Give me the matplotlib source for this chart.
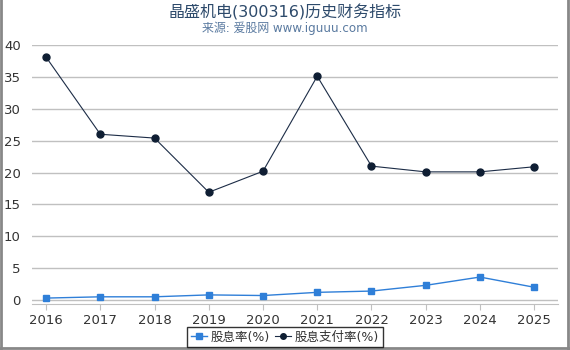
import matplotlib
matplotlib.use("Agg")
import matplotlib.pyplot as plt
from matplotlib.lines import Line2D

plt.rcParams['font.family'] = ['DejaVu Sans', 'Noto Sans CJK SC']

years = [2016, 2017, 2018, 2019, 2020, 2021, 2022, 2023, 2024, 2025]
dividend_yield = [0.3, 0.5, 0.5, 0.8, 0.7, 1.2, 1.4, 2.3, 3.6, 2.0]
payout_ratio = [38.1, 26.0, 25.4, 16.9, 20.2, 35.1, 21.0, 20.1, 20.1, 20.9]

fig = plt.figure(figsize=(5.7, 3.5), dpi=100)
ax = fig.add_axes([0.0561, 0.1314, 0.9229, 0.74])

ax.plot(years, dividend_yield, color="#2f7fd8", linewidth=1, marker="s",
        markersize=5, label="股息率(%)")
ax.plot(years, payout_ratio, color="#1c2c46", linewidth=0.8, marker="o",
        markersize=5, markerfacecolor="#0f1e33", markeredgecolor="#0f1e33",
        label="股息支付率(%)")

ax.set_xlim(2015.74, 2025.44)
ax.set_ylim(-0.63, 40)
ax.set_xticks(years)
ax.set_yticks(range(0, 41, 5))
ax.grid(axis="y", color="#c0c0c0", linewidth=1)
ax.set_axisbelow(True)
for s in ["top", "right", "left"]:
    ax.spines[s].set_visible(False)
ax.spines["bottom"].set_color("#c0c0c0")
ax.tick_params(axis="x", colors="#c0c0c0", labelcolor="#333333", labelsize=9.5, length=4)
ax.tick_params(axis="y", length=0, labelcolor="#333333", labelsize=9.5, pad=8)

fig.text(0.5, 0.965, "晶盛机电(300316)历史财务指标", ha="center", va="center",
         fontsize=11.5, color="#2d4a6b")
fig.text(0.5, 0.918, "来源: 爱股网 www.iguuu.com", ha="center", va="center",
         fontsize=8.6, color="#5a7aa0")

leg = fig.legend(loc="lower center", bbox_to_anchor=(0.5, 0.008), ncol=2,
                 fontsize=9, frameon=True, fancybox=False, handlelength=1.3,
                 handletextpad=0.3, columnspacing=0.4, borderpad=0.3,
                 borderaxespad=0, markerscale=0.8)
leg.get_frame().set_edgecolor("black")
leg.get_frame().set_linewidth(1)
for t in leg.get_texts():
    t.set_color("#333333")

# gray frame on left, right and bottom
for xs, ys in [([0.002, 0.002], [0, 1]), ([0.996, 0.996], [0, 1]), ([0, 1], [0.005, 0.005])]:
    fig.add_artist(Line2D(xs, ys, transform=fig.transFigure, color="#888888", linewidth=2))

fig.savefig("out.png", dpi=100)
